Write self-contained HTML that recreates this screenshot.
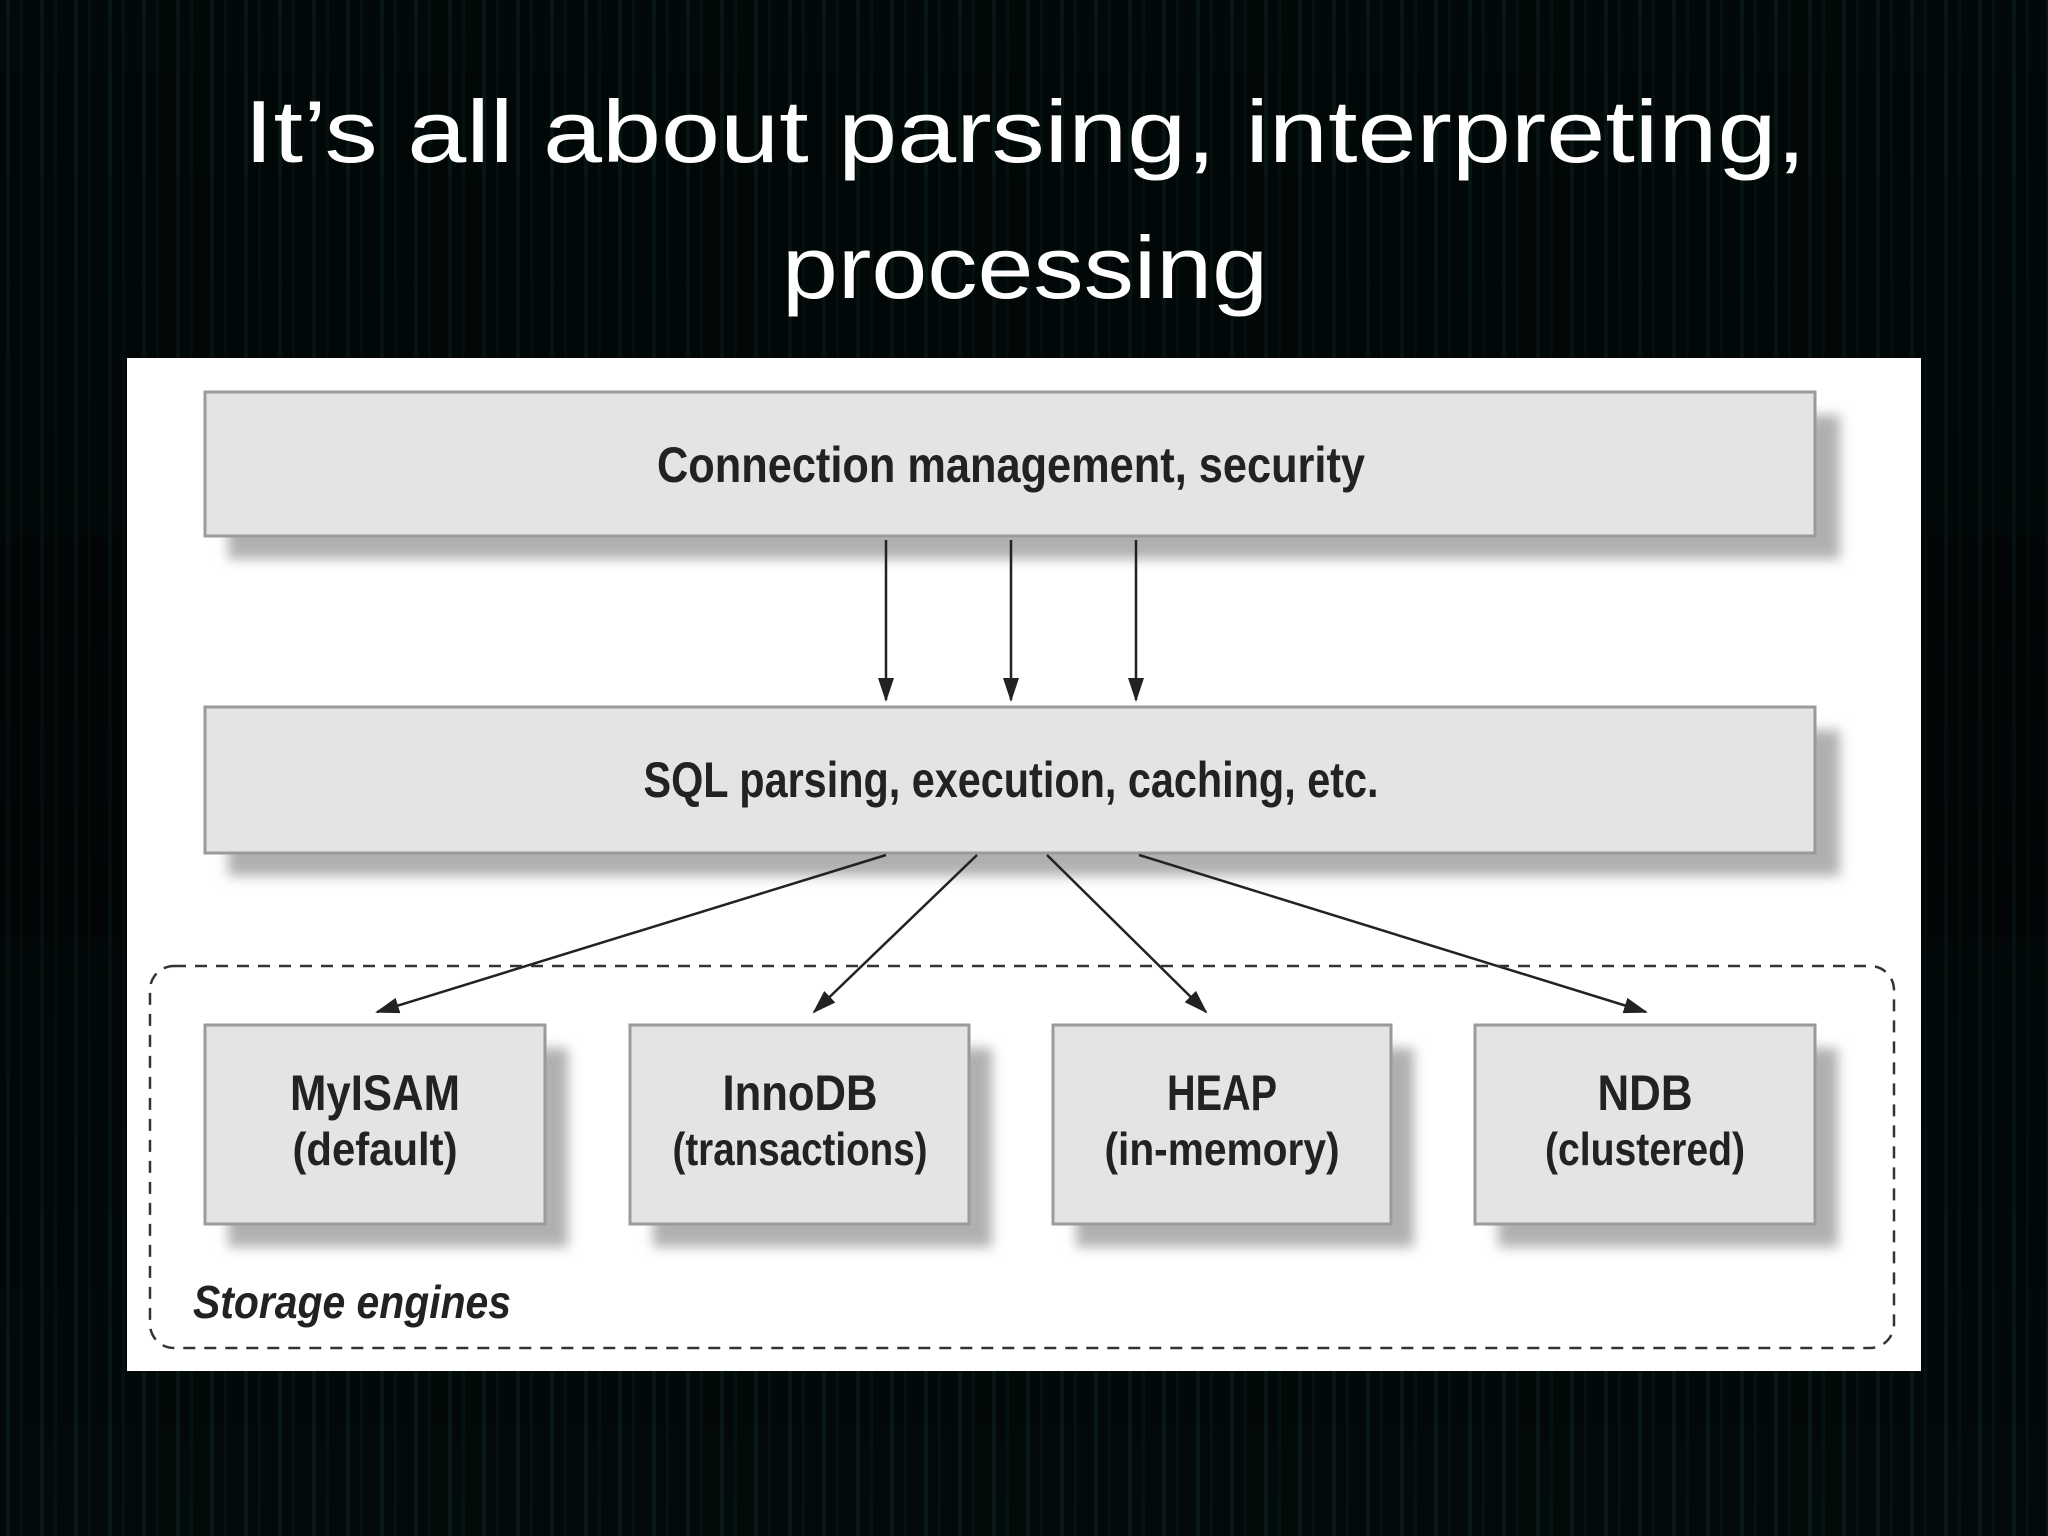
<!DOCTYPE html>
<html><head><meta charset="utf-8"><style>
html,body{margin:0;padding:0;background:#030a0a;}
svg{display:block}
</style></head><body>
<svg width="2048" height="1536" viewBox="0 0 2048 1536" xmlns="http://www.w3.org/2000/svg">
<defs>
<pattern id="stripes" width="34" height="1536" patternUnits="userSpaceOnUse">
<rect width="34" height="1536" fill="#030b0b"/>
<rect x="6" width="4" height="1536" fill="#0b2422" opacity="0.7"/>
<rect x="20" width="3" height="1536" fill="#0a1d1c" opacity="0.6"/>
</pattern>
<linearGradient id="fade" x1="0" y1="0" x2="0" y2="1">
<stop offset="0" stop-color="#000" stop-opacity="0.2"/>
<stop offset="0.5" stop-color="#000" stop-opacity="0.5"/>
<stop offset="1" stop-color="#000" stop-opacity="0.1"/>
</linearGradient>
<filter id="blur" x="-10%" y="-30%" width="120%" height="160%"><feGaussianBlur stdDeviation="6"/></filter>
<marker id="ah" markerWidth="24" markerHeight="20" refX="22" refY="10" orient="auto" markerUnits="userSpaceOnUse" viewBox="0 0 24 20">
<path d="M0,2 L24,10 L0,18 Z" fill="#222"/>
</marker>
</defs>
<rect width="2048" height="1536" fill="url(#stripes)"/>
<rect width="2048" height="1536" fill="url(#fade)"/>
<text x="1025" y="162" fill="#fff" font-family="Liberation Sans, sans-serif" font-size="88" text-anchor="middle" textLength="1562" lengthAdjust="spacingAndGlyphs">It’s all about parsing, interpreting,</text>
<text x="1025" y="298" fill="#fff" font-family="Liberation Sans, sans-serif" font-size="88" text-anchor="middle" textLength="486" lengthAdjust="spacingAndGlyphs">processing</text>

<rect x="127" y="358" width="1794" height="1013" fill="#fff"/>

<g font-family="Liberation Sans Narrow, Liberation Sans, sans-serif" fill="#222" font-weight="bold">
<g fill="#b0b0b0" filter="url(#blur)">
<rect x="228" y="415" width="1612" height="144"/>
<rect x="228" y="730" width="1612" height="146"/>
<rect x="228" y="1048" width="340" height="199"/>
<rect x="653" y="1048" width="339" height="199"/>
<rect x="1076" y="1048" width="338" height="199"/>
<rect x="1498" y="1048" width="340" height="199"/>
</g>
<rect x="205" y="392" width="1610" height="144" fill="#e4e4e4" stroke="#9a9a9a" stroke-width="3"/>
<text x="1011" y="482" font-size="50" text-anchor="middle" textLength="708" lengthAdjust="spacingAndGlyphs">Connection management, security</text>
<rect x="205" y="707" width="1610" height="146" fill="#e4e4e4" stroke="#9a9a9a" stroke-width="3"/>
<text x="1011" y="797" font-size="50" text-anchor="middle" textLength="735" lengthAdjust="spacingAndGlyphs">SQL parsing, execution, caching, etc.</text>

<g stroke="#222" stroke-width="2.5" marker-end="url(#ah)">
<line x1="886" y1="540" x2="886" y2="700"/>
<line x1="1011" y1="540" x2="1011" y2="700"/>
<line x1="1136" y1="540" x2="1136" y2="700"/>
<line x1="886" y1="855" x2="377" y2="1012"/>
<line x1="977" y1="855" x2="814" y2="1012"/>
<line x1="1047" y1="855" x2="1206" y2="1012"/>
<line x1="1139" y1="855" x2="1646" y2="1012"/>
</g>

<rect x="150" y="966" width="1744" height="382" rx="24" fill="none" stroke="#333" stroke-width="2.5" stroke-dasharray="12 9"/>

<g>
<rect x="205" y="1025" width="340" height="199" fill="#e4e4e4" stroke="#9a9a9a" stroke-width="3"/>
<text x="375" y="1110" font-size="50" text-anchor="middle" textLength="170" lengthAdjust="spacingAndGlyphs">MyISAM</text>
<text x="375" y="1165" font-size="46" text-anchor="middle" textLength="165" lengthAdjust="spacingAndGlyphs">(default)</text>

<rect x="630" y="1025" width="339" height="199" fill="#e4e4e4" stroke="#9a9a9a" stroke-width="3"/>
<text x="800" y="1110" font-size="50" text-anchor="middle" textLength="155" lengthAdjust="spacingAndGlyphs">InnoDB</text>
<text x="800" y="1165" font-size="46" text-anchor="middle" textLength="255" lengthAdjust="spacingAndGlyphs">(transactions)</text>

<rect x="1053" y="1025" width="338" height="199" fill="#e4e4e4" stroke="#9a9a9a" stroke-width="3"/>
<text x="1222" y="1110" font-size="50" text-anchor="middle" textLength="110" lengthAdjust="spacingAndGlyphs">HEAP</text>
<text x="1222" y="1165" font-size="46" text-anchor="middle" textLength="235" lengthAdjust="spacingAndGlyphs">(in-memory)</text>

<rect x="1475" y="1025" width="340" height="199" fill="#e4e4e4" stroke="#9a9a9a" stroke-width="3"/>
<text x="1645" y="1110" font-size="50" text-anchor="middle" textLength="95" lengthAdjust="spacingAndGlyphs">NDB</text>
<text x="1645" y="1165" font-size="46" text-anchor="middle" textLength="200" lengthAdjust="spacingAndGlyphs">(clustered)</text>
</g>

<text x="193" y="1318" font-size="46" font-style="italic" textLength="318" lengthAdjust="spacingAndGlyphs">Storage engines</text>
</g>
</svg>
</body></html>
